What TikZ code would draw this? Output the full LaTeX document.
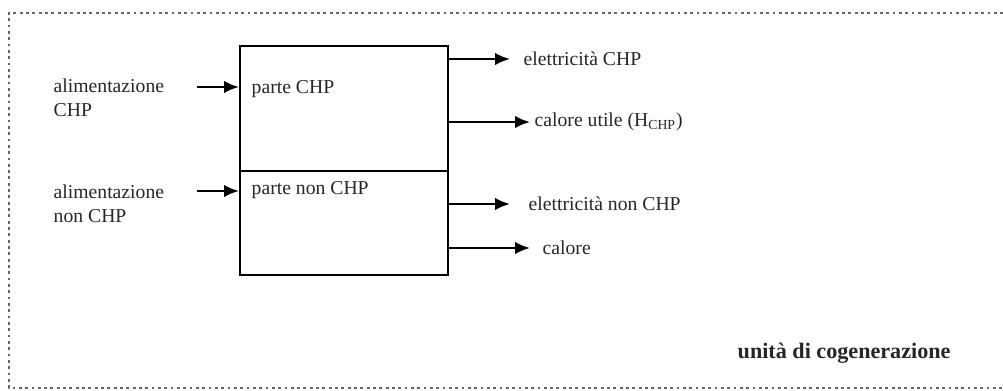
\documentclass[tikz,border=0pt]{standalone}
\usepackage{fontspec}
\setmainfont{Liberation Serif}
\usetikzlibrary{arrows.meta,positioning}

\begin{document}
\begin{tikzpicture}[x=0.02cm,y=-0.02cm,->,>={Latex[length=0.3cm,width=0.25cm]},thick,
  part box/.style={draw,rectangle,line width=0.9pt,minimum width=4.16cm,anchor=north west,inner sep=0pt},
  lbl/.style={font=\fontsize{11.2}{13.5}\selectfont,text=black!85,inner sep=0pt},
  flow/.style={->,line width=1.4pt}]

  \useasboundingbox (0,0) rectangle (1003,390);

  % frame of the unit, open on the right
  \draw[-,black!60,dotted,line width=1.6pt] (1003,13) -- (9,13) -- (9,388) -- (1003,388);

  \node[part box,minimum height=2.5cm] (chp) at (239,45) {};
  \node[part box,minimum height=2.08cm] (nonchp) at (239,170) {};

  \node[lbl,anchor=north west] (chplbl) at (251,80) {parte CHP};
  \node[lbl,anchor=north west] (nonchplbl) at (251,181) {parte non CHP};

  % inputs
  \node[lbl,anchor=north west,align=left] (inchp) at (53,78) {alimentazione\\CHP};
  \node[lbl,anchor=north west,align=left] (innon) at (53,184) {alimentazione\\non CHP};
  \coordinate (a1) at (197,87);
  \coordinate (a2) at (197,191);
  \draw[flow] (a1) -- (a1 -| chp.west);
  \draw[flow] (a2) -- (a2 -| nonchp.west);

  % outputs
  \coordinate (e1) at (510,59);
  \coordinate (e2) at (530,122);
  \coordinate (e3) at (510,204);
  \coordinate (e4) at (530,248);
  \draw[flow] (e1 -| chp.east) -- (e1);
  \draw[flow] (e2 -| chp.east) -- (e2);
  \draw[flow] (e3 -| nonchp.east) -- (e3);
  \draw[flow] (e4 -| nonchp.east) -- (e4);

  \node[lbl,right=13*0.02cm of e1] (out1) {elettricità CHP};
  \node[lbl,right=4*0.02cm of e2] (out2) {calore utile (H\textsubscript{CHP})};
  \node[lbl,right=18*0.02cm of e3] (out3) {elettricità non CHP};
  \node[lbl,right=12*0.02cm of e4] (out4) {calore};

  \node[lbl,font=\fontsize{12.6}{15}\selectfont\bfseries,anchor=west] (unit) at (737,353) {unità di cogenerazione};

\end{tikzpicture}
\end{document}
